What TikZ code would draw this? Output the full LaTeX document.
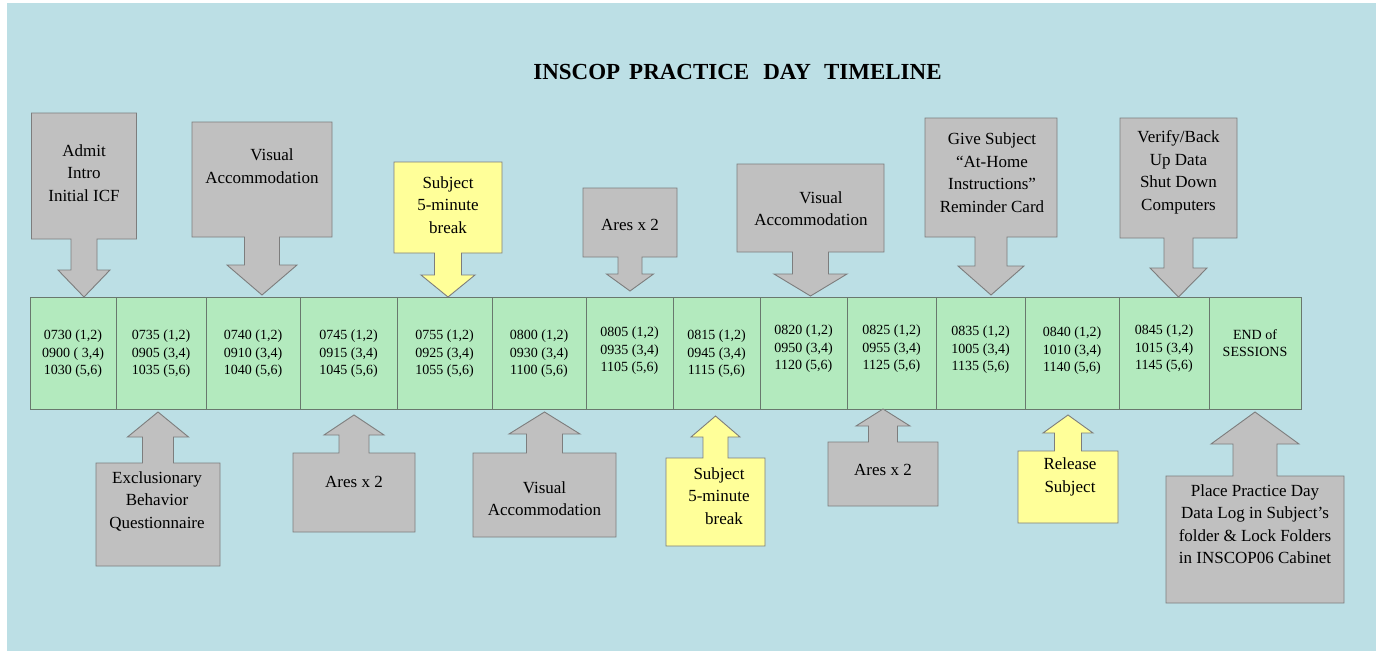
\documentclass[tikz,border=0pt]{standalone}
\usepackage{fontspec}
\setmainfont{Liberation Serif}

\definecolor{bgblue}{RGB}{188,223,229}
\definecolor{cellgreen}{RGB}{179,234,190}
\definecolor{cellline}{RGB}{105,120,110}
\definecolor{boxgray}{RGB}{192,192,192}
\definecolor{boxline}{RGB}{125,125,125}
\definecolor{noteyellow}{RGB}{255,255,153}

% #1 style, #2 centre x, #3 box half width, #4 far edge, #5 near edge,
% #6 shaft half width, #7 head half width, #8 neck, #9 tip
\newcommand{\callout}[9]{%
  \draw[#1] ({#2-#3},#4) -- ({#2+#3},#4) -- ({#2+#3},#5) -- ({#2+#6},#5)
    -- ({#2+#6},#8) -- ({#2+#7},#8) -- (#2,#9) -- ({#2-#7},#8)
    -- ({#2-#6},#8) -- ({#2-#6},#5) -- ({#2-#3},#5) -- cycle;}

\begin{document}
\begin{tikzpicture}[x=1pt,y=-1pt,
  graybox/.style={draw=boxline, fill=boxgray, line width=0.9pt},
  yellowbox/.style={draw=boxline, fill=noteyellow, line width=0.9pt},
  cell/.style={draw=cellline, fill=cellgreen, line width=0.9pt},
  celltext/.style={align=center, inner sep=0pt, font=\fontsize{14}{17.5}\selectfont},
  calltext/.style={align=center, inner sep=0pt, font=\fontsize{17}{22.5}\selectfont}]

\useasboundingbox (0,0) rectangle (1382,653);
\fill[white] (0,0) rectangle (1382,653);
\fill[bgblue] (7,3) rectangle (1376,651);

\node[anchor=base, font=\fontsize{23}{28}\selectfont\bfseries] (title) at (737.5,79)
  {INSCOP\hspace{9pt}PRACTICE\hspace{14pt}DAY\hspace{13pt}TIMELINE};

% the timeline strip
\foreach \l/\r/\y/\t [count=\i] in {
  30/116/354/{0730 (1,2)\\0900 ( 3,4)\\1030 (5,6)},
  116/206/354/{0735 (1,2)\\0905 (3,4)\\1035 (5,6)},
  206/300/354/{0740 (1,2)\\0910 (3,4)\\1040 (5,6)},
  300/397/354/{0745 (1,2)\\0915 (3,4)\\1045 (5,6)},
  397/492/354/{0755 (1,2)\\0925 (3,4)\\1055 (5,6)},
  492/586/354/{0800 (1,2)\\0930 (3,4)\\1100 (5,6)},
  586/673/351/{0805 (1,2)\\0935 (3,4)\\1105 (5,6)},
  673/760/354/{0815 (1,2)\\0945 (3,4)\\1115 (5,6)},
  760/847/349/{0820 (1,2)\\0950 (3,4)\\1120 (5,6)},
  847/936/349/{0825 (1,2)\\0955 (3,4)\\1125 (5,6)},
  936/1025/350/{0835 (1,2)\\1005 (3,4)\\1135 (5,6)},
  1025/1119/351/{0840 (1,2)\\1010 (3,4)\\1140 (5,6)},
  1119/1209/349/{0845 (1,2)\\1015 (3,4)\\1145 (5,6)},
  1209/1301/343/{END of\\SESSIONS}}{
  \draw[cell] (\l,297) rectangle (\r,409);
  \node[celltext] (cell\i) at ({(\l+\r)/2},\y) {\t};
}

% callouts above the strip
\callout{graybox}{84}{52.5}{113}{239}{13}{26}{270}{297}
\node[calltext] (admit) at (84,173) {Admit\\Intro\\Initial ICF};
\callout{graybox}{262}{70}{122}{237}{17.5}{35}{265}{295}
\node[calltext] (visualA) at (262,166) {\hspace*{20pt}Visual\\Accommodation};
\callout{yellowbox}{448}{54}{162}{253}{13.5}{27}{275}{297}
\node[calltext] (breakA) at (448,205) {Subject\\5-minute\\break};
\callout{graybox}{630}{47}{188}{257}{12}{23.5}{274}{291}
\node[calltext] (aresA) at (630,225) {Ares x 2};
\callout{graybox}{810.5}{73.5}{164}{252}{18}{36.5}{274}{296}
\node[calltext] (visualB) at (811,208.5) {\hspace*{20pt}Visual\\Accommodation};
\callout{graybox}{991}{66}{118}{237}{16}{33}{266}{295}
\node[calltext] (give) at (992,172.5) {Give Subject\\“At-Home\\Instructions”\\Reminder Card};
\callout{graybox}{1178.5}{58.5}{118}{238}{14.5}{28.5}{268}{297}
\node[calltext] (verify) at (1178.5,172.5) {Verify/Back\\Up Data\\Shut Down\\Computers};

% callouts below the strip
\callout{graybox}{158}{62}{566}{463}{15.5}{30.5}{437}{412}
\node[calltext] (exclusion) at (157,501) {Exclusionary\\Behavior\\Questionnaire};
\callout{graybox}{354}{61}{532}{453}{15}{30}{435}{415}
\node[calltext] (aresB) at (354,482) {Ares x 2};
\callout{graybox}{544.5}{71.5}{537}{453}{18}{35.5}{434}{412}
\node[calltext] (visualC) at (544.5,498.5) {Visual\\Accommodation};
\callout{yellowbox}{715.5}{49.5}{546}{458}{12.5}{24.5}{437}{416}
\node[calltext] (breakB) at (719,496) {Subject\\5-minute\\\hspace*{10pt}break};
\callout{graybox}{883}{55}{506}{442}{14.5}{27}{426}{409}
\node[calltext] (aresC) at (883,470) {Ares x 2};
\callout{yellowbox}{1068}{50}{523}{451}{13.5}{25}{433}{415}
\node[calltext] (release) at (1070,477) {Release\\Subject};
\callout{graybox}{1255}{89}{603}{476}{22}{44}{444}{412}
\node[calltext] (place) at (1255,524) {Place Practice Day\\Data Log in Subject’s\\folder \& Lock Folders\\in INSCOP06 Cabinet};
\end{tikzpicture}
\end{document}
